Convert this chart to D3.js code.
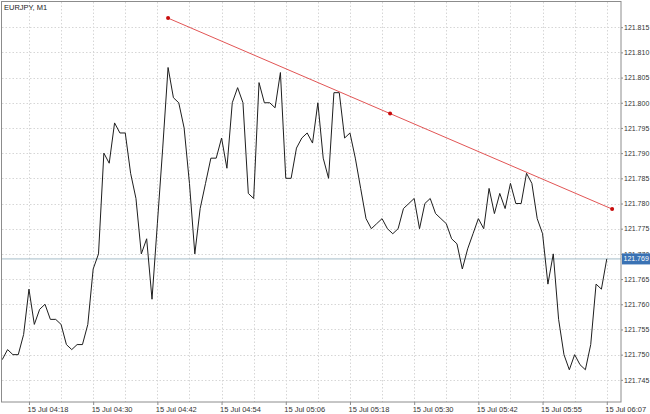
<!DOCTYPE html>
<html>
<head>
<meta charset="utf-8">
<script src="https://cdn.jsdelivr.net/npm/d3@7"></script>
<style>
  body { margin: 0; background: #fff; }
  text { font-family: "Liberation Sans", Arial, sans-serif; }
</style>
</head>
<body>
<div id="container"></div>
<script>

// EURJPY M1 closes, one per bar (bar 0 = 15 Jul 04:13)
const closes = [
  121.749, 121.751, 121.750, 121.750, 121.754, 121.763, 121.756, 121.759, 121.760, 121.757,
  121.757, 121.756, 121.752, 121.751, 121.752, 121.752, 121.756, 121.767, 121.770, 121.790,
  121.788, 121.796, 121.794, 121.794, 121.786, 121.781, 121.770, 121.773, 121.761, 121.776,
  121.791, 121.807, 121.801, 121.800, 121.795, 121.784, 121.770, 121.779, 121.784, 121.789,
  121.789, 121.793, 121.787, 121.800, 121.803, 121.800, 121.782, 121.781, 121.804, 121.800,
  121.800, 121.799, 121.806, 121.785, 121.785, 121.791, 121.793, 121.794, 121.792, 121.800,
  121.789, 121.785, 121.802, 121.802, 121.793, 121.794, 121.789, 121.783, 121.777, 121.775,
  121.776, 121.777, 121.775, 121.774, 121.775, 121.779, 121.780, 121.781, 121.775, 121.780,
  121.781, 121.778, 121.777, 121.776, 121.773, 121.772, 121.767, 121.771, 121.774, 121.777,
  121.775, 121.783, 121.778, 121.782, 121.779, 121.784, 121.780, 121.780, 121.786, 121.784,
  121.777, 121.774, 121.764, 121.770, 121.757, 121.750, 121.747, 121.750, 121.748, 121.747,
  121.752, 121.764, 121.763, 121.769
];

// time axis labels (bar index -> label)
const timeTickBars = [5, 17, 29, 41, 53, 65, 77, 89, 101, 113];
const timeTickLabels = [
  "15 Jul 04:18", "15 Jul 04:30", "15 Jul 04:42", "15 Jul 04:54", "15 Jul 05:06",
  "15 Jul 05:18", "15 Jul 05:30", "15 Jul 05:42", "15 Jul 05:55", "15 Jul 06:07"
];
const gridBars = d3.range(5, 114, 6);

// price axis
const priceTicks = [121.745, 121.750, 121.755, 121.760, 121.765, 121.770, 121.775,
  121.780, 121.785, 121.790, 121.795, 121.800, 121.805, 121.810, 121.815];
const priceDomain = [121.7406, 121.8200];
const lastPrice = 121.769;

// trend line anchors: [bar, price]
const trendPoints = [[31, 121.8168], [72.5, 121.79785], [114, 121.7789]];

const width = 650;
const height = 414;
const plot = { left: 2, top: 2, right: 621, bottom: 402 };

const svg = d3.create("svg")
  .attr("width", width)
  .attr("height", height);

const x = d3.scaleLinear()
  .domain([-0.04, 115.66])
  .range([plot.left, plot.right]);

const y = d3.scaleLinear()
  .domain(priceDomain)
  .range([plot.bottom, plot.top]);

// grid
const grid = svg.append("g")
  .attr("stroke", "#d6d6d6")
  .attr("stroke-dasharray", "1.5,2");

grid.selectAll(".hg")
  .data(priceTicks)
  .enter().append("line")
  .attr("x1", plot.left).attr("x2", plot.right)
  .attr("y1", d => Math.round(y(d)) + 0.5)
  .attr("y2", d => Math.round(y(d)) + 0.5);

grid.selectAll(".vg")
  .data(gridBars)
  .enter().append("line")
  .attr("y1", plot.top).attr("y2", plot.bottom)
  .attr("x1", d => Math.round(x(d)) + 0.5)
  .attr("x2", d => Math.round(x(d)) + 0.5);

// current price line
svg.append("line")
  .attr("x1", plot.left).attr("x2", plot.right)
  .attr("y1", y(lastPrice)).attr("y2", y(lastPrice))
  .attr("stroke", "#a3bcc8")
  .attr("stroke-width", 1);

// close line
const line = d3.line()
  .x((d, i) => x(i))
  .y(d => y(d));

svg.append("path")
  .datum(closes)
  .attr("d", line)
  .attr("fill", "none")
  .attr("stroke", "#1e1e1e")
  .attr("stroke-width", 1);

// trend line
svg.append("line")
  .attr("x1", x(trendPoints[0][0])).attr("y1", y(trendPoints[0][1]))
  .attr("x2", x(trendPoints[2][0])).attr("y2", y(trendPoints[2][1]))
  .attr("stroke", "#e25555")
  .attr("stroke-width", 1);

svg.selectAll(".tp")
  .data(trendPoints)
  .enter().append("circle")
  .attr("cx", d => x(d[0]))
  .attr("cy", d => y(d[1]))
  .attr("r", 2)
  .attr("fill", "#c80c0c");

// frame
svg.append("rect")
  .attr("x", plot.left - 0.5).attr("y", plot.top - 0.5)
  .attr("width", plot.right - plot.left + 0.5)
  .attr("height", plot.bottom - plot.top + 0.5)
  .attr("fill", "none")
  .attr("stroke", "#8c8c8c");

// right axis
const yAxis = svg.append("g")
  .attr("transform", `translate(${plot.right},0)`)
  .call(d3.axisRight(y).tickValues(priceTicks).tickSize(2).tickPadding(1)
    .tickFormat(d3.format(".3f")));
yAxis.select(".domain").remove();
yAxis.selectAll("line").attr("stroke", "#8c8c8c");
yAxis.selectAll("text")
  .attr("font-size", "7px")
  .attr("fill", "#333");

// bottom axis
const xAxis = svg.append("g")
  .attr("transform", `translate(0,${plot.bottom})`)
  .call(d3.axisBottom(x).tickValues(timeTickBars).tickSize(3).tickPadding(2)
    .tickFormat((d, i) => timeTickLabels[i]));
xAxis.select(".domain").remove();
xAxis.selectAll("line").attr("stroke", "#8c8c8c");
xAxis.selectAll("text")
  .attr("text-anchor", "start")
  .attr("dx", "-2")
  .attr("font-size", "7.5px")
  .attr("fill", "#333");

// last price tag
const tagY = y(lastPrice);
svg.append("rect")
  .attr("x", plot.right + 1).attr("y", tagY - 5.5)
  .attr("width", width - plot.right - 1).attr("height", 11)
  .attr("fill", "#3a72b4");
svg.append("text")
  .attr("x", plot.right + 2.5).attr("y", tagY + 2.5)
  .attr("font-size", "7px")
  .attr("fill", "#fff")
  .text(d3.format(".3f")(lastPrice));

// title
svg.append("text")
  .attr("x", 4).attr("y", 9.5)
  .attr("font-size", "7.5px")
  .attr("fill", "#222")
  .text("EURJPY, M1");

container.append(svg.node());

</script>
</body>
</html>
